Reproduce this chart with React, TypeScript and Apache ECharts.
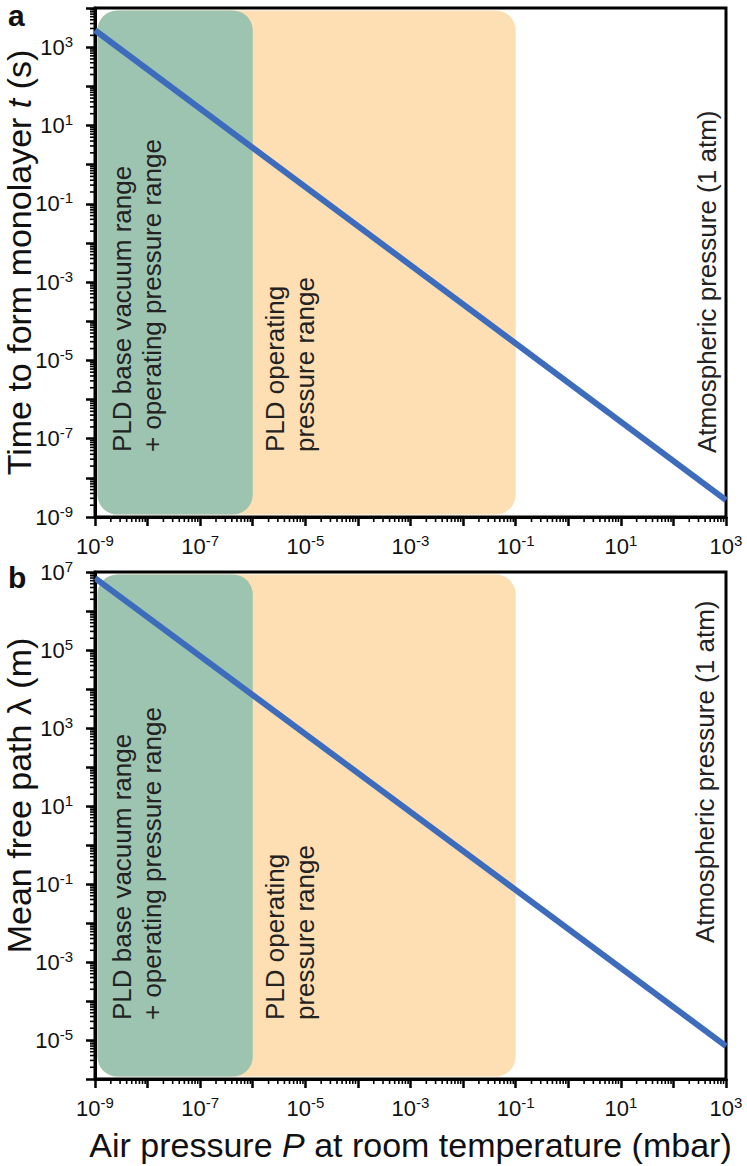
import React, { useEffect, useRef } from "react";
import * as echarts from "echarts";

// ---- data ----
const pressureEnds = [1e-9, 1e3]; // mbar
const monolayerTime = [2.7e3, 2.7e-9]; // s
const meanFreePath = [7e6, 7e-6]; // m
const baseVacuumBand = [1e-9, 1e-6];
const operatingBand = [1e-9, 1e-1];
const xRange = [1e-9, 1e3];
const yRangeA = [1e-9, 1e4];
const yRangeB = [1e-6, 1e7];

const FONT = "'Liberation Sans', Arial, Helvetica, sans-serif";
const GREEN = "#9dc4b1";
const ORANGE = "#fedeb3";
const BLUE = "#3d6cbc";

function minorTicks(lo: number, hi: number): number[] {
  const out: number[] = [];
  const e0 = Math.round(Math.log10(lo));
  const e1 = Math.round(Math.log10(hi));
  for (let e = e0; e < e1; e++) {
    for (let m = 2; m <= 9; m++) out.push(m * Math.pow(10, e));
  }
  return out;
}

const labelFormatter = (v: number) => {
  const e = Math.round(Math.log10(v));
  return e % 2 !== 0 ? `{b|10}{s|${e}}` : "";
};

const rich = {
  b: { fontSize: 22, fontFamily: FONT, color: "#111" },
  s: { fontSize: 15, fontFamily: FONT, color: "#111", padding: [0, 0, 12, 0] },
};

function makeXAxis(gridIndex: number, withName: boolean) {
  return {
    type: "log",
    gridIndex,
    logBase: 10,
    min: xRange[0],
    max: xRange[1],
    interval: 1,
    axisLine: { show: true, onZero: false, lineStyle: { color: "#000", width: 3 } },
    axisTick: { show: true, inside: false, length: 9, lineStyle: { color: "#000", width: 2.5 } },
    axisLabel: { interval: 0, formatter: labelFormatter, rich, margin: 16, showMinLabel: true, showMaxLabel: true },
    splitLine: { show: false },
    name: withName ? "Air pressure {i|P} at room temperature (mbar)" : "",
    nameLocation: "middle",
    nameGap: 49,
    nameMoveOverlap: false,
    nameTextStyle: {
      fontSize: 34,
      fontFamily: FONT,
      color: "#111",
      rich: {
        i: { fontSize: 34, fontFamily: FONT, fontStyle: "italic", color: "#111" },
      },
    },
  };
}

function makeYAxis(gridIndex: number, range: number[], name: string, shift: number) {
  return {
    type: "log",
    gridIndex,
    logBase: 10,
    min: range[0],
    max: range[1],
    interval: 1,
    axisLine: { show: true, onZero: false, lineStyle: { color: "#000", width: 3 } },
    axisTick: { show: true, inside: false, length: 9, lineStyle: { color: "#000", width: 2.5 } },
    axisLabel: { interval: 0, formatter: labelFormatter, rich, margin: 22, showMinLabel: true, showMaxLabel: true },
    splitLine: { show: false },
    name,
    nameLocation: "middle",
    nameGap: 58,
    nameMoveOverlap: false,
    nameTextStyle: {
      fontSize: 34,
      lineHeight: 36,
      fontFamily: FONT,
      color: "#111",
      padding: [0, 0, 0, shift],
      rich: {
        i: { fontSize: 34, lineHeight: 36, fontFamily: FONT, fontStyle: "italic", color: "#111" },
      },
    },
  };
}

function bandSeries(idx: number, band: number[], yr: number[], color: string, z: number) {
  return {
    type: "custom",
    xAxisIndex: idx,
    yAxisIndex: idx,
    z,
    silent: true,
    clip: false,
    data: [[band[0], band[1], yr[0], yr[1]]],
    encode: { x: [0, 1], y: [2, 3] },
    renderItem: (_p: any, api: any) => {
      const a = api.coord([api.value(0), api.value(3)]);
      const b = api.coord([api.value(1), api.value(2)]);
      return {
        type: "rect",
        shape: { x: a[0] + 2.5, y: a[1] + 2.5, width: b[0] - a[0] - 2.5, height: b[1] - a[1] - 5, r: 20 },
        style: { fill: color },
      };
    },
  };
}

function minorTickSeries(idx: number, yr: number[]) {
  const xm = minorTicks(xRange[0], xRange[1]).map((v) => [v, yr[0], 0]);
  const ym = minorTicks(yr[0], yr[1]).map((v) => [xRange[0], v, 1]);
  return {
    type: "custom",
    xAxisIndex: idx,
    yAxisIndex: idx,
    z: 5,
    silent: true,
    clip: false,
    data: [...xm, ...ym],
    renderItem: (_p: any, api: any) => {
      const p = api.coord([api.value(0), api.value(1)]);
      const isY = api.value(2) === 1;
      return {
        type: "line",
        shape: isY
          ? { x1: p[0] - 5, y1: p[1], x2: p[0], y2: p[1] }
          : { x1: p[0], y1: p[1], x2: p[0], y2: p[1] + 5 },
        style: { stroke: "#000", lineWidth: 1.6 },
      };
    },
  };
}

function lineSeries(idx: number, ys: number[]) {
  return {
    type: "line",
    xAxisIndex: idx,
    yAxisIndex: idx,
    z: 4,
    symbol: "none",
    lineStyle: { color: BLUE, width: 6 },
    data: pressureEnds.map((x, i) => [x, ys[i]]),
  };
}

function vText(x: number, y: number, text: string) {
  return {
    type: "text",
    x,
    y,
    rotation: Math.PI / 2,
    z: 10,
    style: {
      text,
      fontSize: 26,
      lineHeight: 30,
      fontFamily: FONT,
      fill: "#222",
      align: "left",
      verticalAlign: "middle",
    },
  };
}

export default function App() {
  const ref = useRef<HTMLDivElement>(null);
  useEffect(() => {
    if (!ref.current) return;
    const chart = echarts.init(ref.current, undefined, { renderer: "svg" });
    chart.setOption({
      animation: false,
      backgroundColor: "#fff",
      grid: [
        { left: 95, top: 8, width: 631, height: 509, outerBoundsMode: "none", containLabel: false, show: true, borderColor: "#000", borderWidth: 3, backgroundColor: "transparent" },
        { left: 95, top: 572, width: 631, height: 507, outerBoundsMode: "none", containLabel: false, show: true, borderColor: "#000", borderWidth: 3, backgroundColor: "transparent" },
      ],
      xAxis: [makeXAxis(0, false), makeXAxis(1, true)],
      yAxis: [
        makeYAxis(0, yRangeA, "Time to form monolayer {i|t} (s)", 0),
        makeYAxis(1, yRangeB, "Mean free path λ (m)", 60),
      ],
      series: [
        bandSeries(0, operatingBand, yRangeA, ORANGE, 1),
        bandSeries(0, baseVacuumBand, yRangeA, GREEN, 2),
        bandSeries(1, operatingBand, yRangeB, ORANGE, 1),
        bandSeries(1, baseVacuumBand, yRangeB, GREEN, 2),
        minorTickSeries(0, yRangeA),
        minorTickSeries(1, yRangeB),
        lineSeries(0, monolayerTime),
        lineSeries(1, meanFreePath),
      ],
      graphic: [
        { type: "text", left: 8, top: 0, z: 10, style: { text: "a", fontSize: 30, fontWeight: "bold", fontFamily: FONT, fill: "#111" } },
        { type: "text", left: 8, top: 562, z: 10, style: { text: "b", fontSize: 30, fontWeight: "bold", fontFamily: FONT, fill: "#111" } },
        vText(137, 452, "PLD base vacuum range\n+ operating pressure range"),
        vText(290, 452, "PLD operating\npressure range"),
        vText(707, 453, "Atmospheric pressure (1 atm)"),
        vText(137, 1020, "PLD base vacuum range\n+ operating pressure range"),
        vText(290, 1020, "PLD operating\npressure range"),
        vText(705, 943, "Atmospheric pressure (1 atm)"),
      ],
    });
    return () => chart.dispose();
  }, []);
  return <div ref={ref} style={{ position: "absolute", left: 0, top: 0, width: 747, height: 1166 }} />;
}
